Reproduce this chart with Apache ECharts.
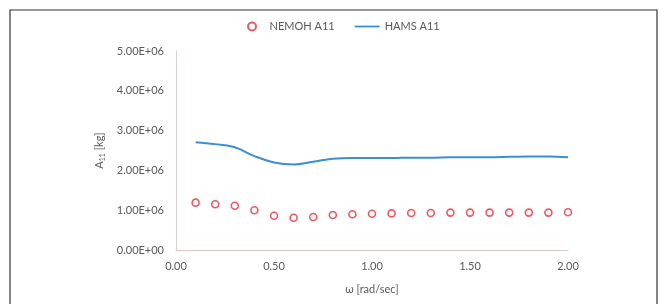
<!DOCTYPE html>
<html>
<head>
<meta charset="utf-8">
<script src="https://cdn.jsdelivr.net/npm/echarts@6/dist/echarts.min.js"></script>
<style>
html,body{margin:0;padding:0;background:#fff;}
#c{width:668px;height:304px;}
</style>
</head>
<body>
<div id="c"></div>
<script>
const omega = [0.1,0.2,0.3,0.4,0.5,0.6,0.7,0.8,0.9,1.0,1.1,1.2,1.3,1.4,1.5,1.6,1.7,1.8,1.9,2.0];
const nemohA11 = [1.19e6,1.15e6,1.11e6,1.00e6,0.86e6,0.81e6,0.83e6,0.88e6,0.90e6,0.91e6,0.92e6,0.93e6,0.93e6,0.94e6,0.94e6,0.94e6,0.94e6,0.94e6,0.94e6,0.95e6];
const hamsA11 = [2.71e6,2.66e6,2.58e6,2.36e6,2.20e6,2.15e6,2.22e6,2.29e6,2.31e6,2.31e6,2.31e6,2.32e6,2.32e6,2.33e6,2.33e6,2.33e6,2.34e6,2.35e6,2.35e6,2.33e6];
const seriesNames = ['NEMOH A11','HAMS A11'];
const xTitle = 'ω [rad/sec]';

const chart = echarts.init(document.getElementById('c'));
const font = 'Lato, "Open Sans", sans-serif';
chart.setOption({
  animation:false,
  backgroundColor:'#fff',
  graphic:[{type:'rect',shape:{x:10,y:10,width:647,height:310},style:{fill:'none',stroke:'#333',lineWidth:1.2},silent:true}],
  legend:{
    top:16, left:242, itemGap:20, itemHeight:8,
    textStyle:{color:'#595959',fontSize:11,fontFamily:font},
    data:[
      {name:seriesNames[0],icon:'circle',itemWidth:8,itemHeight:8},
      {name:seriesNames[1],icon:'path://M0,0 L28,0 L28,2 L0,2 Z',itemWidth:28,itemHeight:2}
    ]
  },
  grid:{left:176,right:100,top:51,bottom:54},
  xAxis:{
    type:'value',min:0,max:2,interval:0.5,
    name:xTitle,nameLocation:'middle',nameGap:34,
    nameTextStyle:{color:'#595959',fontSize:11,fontFamily:font},
    axisLine:{lineStyle:{color:'#d9c9c9'}},
    axisTick:{show:false},splitLine:{show:false},
    axisLabel:{color:'#595959',fontSize:11,fontFamily:font,margin:11,formatter:v=>v.toFixed(2)}
  },
  yAxis:{
    type:'value',min:0,max:5e6,interval:1e6,
    name:'{a|A}{s|11} [kg]',nameLocation:'middle',nameGap:63,
    nameTextStyle:{color:'#595959',fontSize:11,fontFamily:font,rich:{a:{fontSize:11,color:'#595959',fontFamily:font},s:{fontSize:7,color:'#595959',fontFamily:font,verticalAlign:'bottom',padding:[6,0,0,0]}}},
    axisLine:{show:true,lineStyle:{color:'#d9d0d0'}},
    axisTick:{show:false},splitLine:{show:false},
    axisLabel:{color:'#595959',fontSize:11,fontFamily:font,margin:12,formatter:v=>(v/1e6).toFixed(2)+'E+0'+(v===0?'0':'6')}
  },
  series:[
    {name:seriesNames[0],type:'scatter',symbol:'circle',symbolSize:7,
     itemStyle:{color:'#fff',borderColor:'#e8303a',borderWidth:1.6},
     data:omega.map((x,i)=>[x,nemohA11[i]])},
    {name:seriesNames[1],type:'line',smooth:0.4,showSymbol:false,symbol:'none',
     lineStyle:{color:'#3a8fd0',width:2},itemStyle:{color:'#3a8fd0'},
     data:omega.map((x,i)=>[x,hamsA11[i]])}
  ]
});
</script>
</body>
</html>
